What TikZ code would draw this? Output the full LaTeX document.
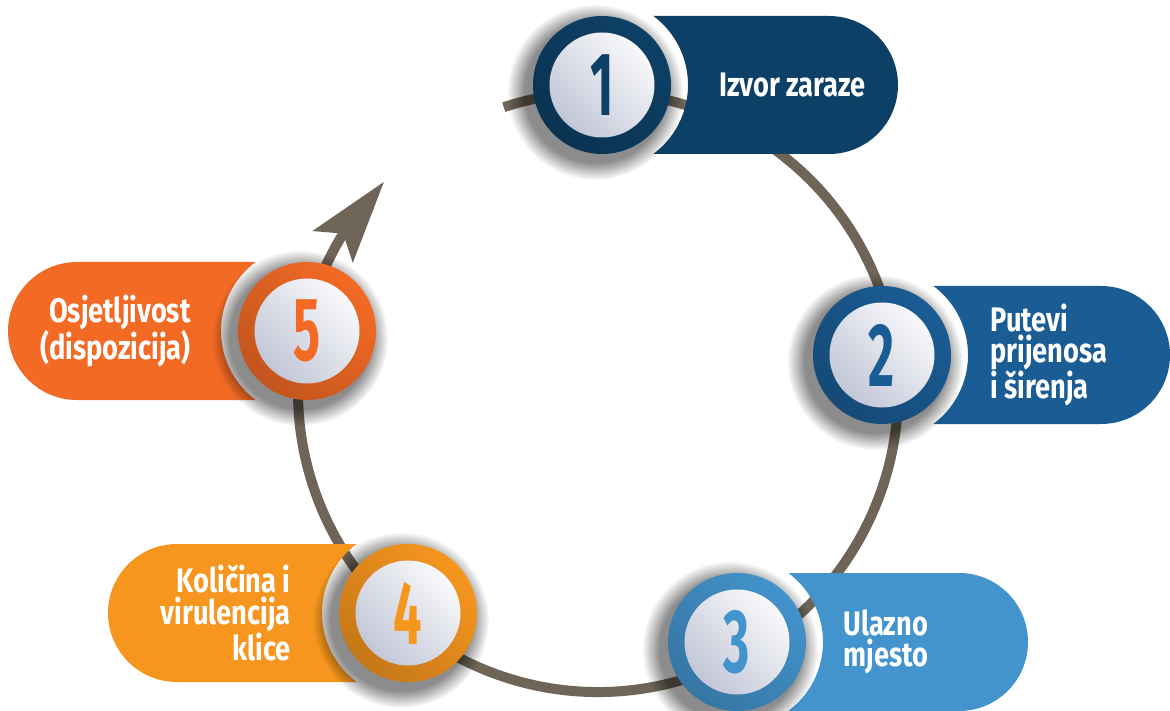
\documentclass[tikz,border=0pt]{standalone}
\usepackage{fontspec}
\setmainfont{Fira Sans}
\newfontfamily\stepfont[FakeStretch=0.8]{Fira Sans}
\newfontfamily\digitfont[FakeStretch=0.56]{Fira Sans}
\usetikzlibrary{arrows.meta,bending,fadings,positioning}

\definecolor{trackgray}{HTML}{6E6557}
\definecolor{srcblue}{HTML}{0D4066}
\definecolor{pathblue}{HTML}{1A5C94}
\definecolor{entryblue}{HTML}{4393CC}
\definecolor{doseorange}{HTML}{F6961E}
\definecolor{hostorange}{HTML}{F36A25}
\definecolor{disclight}{HTML}{F9F9FB}
\definecolor{discdark}{HTML}{C2C7D7}

\tikzset{
    track/.style={draw=trackgray, line width=10pt},
    pill/.style={fill=#1},
    stepshadow/.style={fill=black, opacity=0.45, path fading=circle with fuzzy edge 20 percent},
    stepring/.style={circle, minimum size=138pt, inner sep=0pt, top color=#1, bottom color=#1!80!black, shading angle=-45},
    stepdisc/.style={circle, minimum size=105pt, inner sep=0pt, top color=disclight, bottom color=discdark, shading angle=-45, text=#1, font=\digitfont\bfseries\fontsize{90}{90}\selectfont},
    steptext/.style={text=white, inner sep=0pt, font=\stepfont\bfseries\fontsize{34}{31.5}\selectfont}
}

\begin{document}
\begin{tikzpicture}[x=1pt, y=-1pt]
    % Canvas
    \fill[white] (0,0) rectangle (1170,711);
    \useasboundingbox (0,0) rectangle (1170,711);

    % Disc centres
    \coordinate (c1) at (602,85);
    \coordinate (c2) at (882,355);
    \coordinate (c3) at (737,642);
    \coordinate (c4) at (408,613);
    \coordinate (c5) at (307,331);

    % Cycle track with arrow
    \coordinate (hub) at (598,392);
    \draw[track, -{Stealth[length=82pt, width=50pt, inset=16pt, flex]}]
        ([shift={(-108.3:300)}]hub) arc[start angle=-108.3, end angle=224.5, radius=300];

    % Pills
    % -- right side
    \fill[pill=srcblue] (653.3,16) -- (829,16) arc[start angle=-90, end angle=90, radius=69]
        -- (653.3,154) arc[start angle=53.4, end angle=-53.4, radius=86] -- cycle;
    \fill[pill=pathblue] (933.3,286) -- (1101,286) arc[start angle=-90, end angle=90, radius=69]
        -- (933.3,424) arc[start angle=53.4, end angle=-53.4, radius=86] -- cycle;
    \fill[pill=entryblue] (788.3,573) -- (959,573) arc[start angle=-90, end angle=90, radius=69]
        -- (788.3,711) arc[start angle=53.4, end angle=-53.4, radius=86] -- cycle;
    % -- left side
    \fill[pill=doseorange] (356.7,544) -- (177,544) arc[start angle=-90, end angle=-270, radius=69]
        -- (356.7,682) arc[start angle=126.6, end angle=233.4, radius=86] -- cycle;
    \fill[pill=hostorange] (255.7,262) -- (77,262) arc[start angle=-90, end angle=-270, radius=69]
        -- (255.7,400) arc[start angle=126.6, end angle=233.4, radius=86] -- cycle;

    % Shadows
    \fill[stepshadow] ([shift={(-7,7)}]c1) circle[radius=88];
    \fill[stepshadow] ([shift={(-7,7)}]c2) circle[radius=88];
    \fill[stepshadow] ([shift={(-7,7)}]c3) circle[radius=88];
    \fill[stepshadow] ([shift={(-7,7)}]c4) circle[radius=88];
    \fill[stepshadow] ([shift={(-7,7)}]c5) circle[radius=88];

    % Rings and numbers
    \node[stepring=srcblue] (n1) at (c1) {};
    \node[stepring=pathblue] (n2) at (c2) {};
    \node[stepring=entryblue] (n3) at (c3) {};
    \node[stepring=doseorange] (n4) at (c4) {};
    \node[stepring=hostorange] (n5) at (c5) {};
    \node[stepdisc=srcblue] (d1) at (n1) {1};
    \node[stepdisc=pathblue] (d2) at (n2) {2};
    \node[stepdisc=entryblue] (d3) at (n3) {3};
    \node[stepdisc=doseorange] (d4) at (n4) {4};
    \node[stepdisc=hostorange] (d5) at (n5) {5};

    % Step labels
    \node[steptext, right=48pt of n1] (t1) {Izvor zaraze};
    \node[steptext, align=left, right=39pt of n2] (t2) {Putevi\\prijenosa\\i širenja};
    \node[steptext, align=left, right=37pt of n3] (t3) {Ulazno\\mjesto};
    \node[steptext, align=right, left=48pt of n4] (t4) {Količina i\\virulencija\\klice};
    \node[steptext, align=right, left=47pt of n5] (t5) {Osjetljivost\\(dispozicija)};
\end{tikzpicture}
\end{document}
